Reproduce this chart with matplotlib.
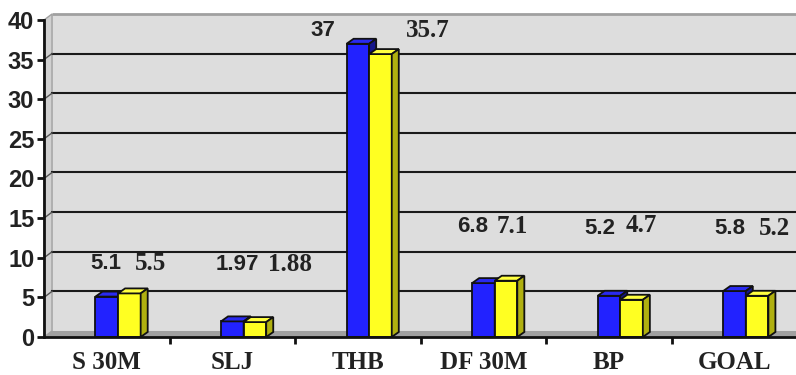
import matplotlib.pyplot as plt
from matplotlib.patches import Polygon, Rectangle
import numpy as np

categories = ["S 30M", "SLJ", "THB", "DF 30M", "BP", "GOAL"]
blue_vals = [5.1, 1.97, 37, 6.8, 5.2, 5.8]
yellow_vals = [5.5, 1.88, 35.7, 7.1, 4.7, 5.2]
blue_text = ["5.1", "1.97", "37", "6.8", "5.2", "5.8"]
yellow_text = ["5.5", "1.88", "35.7", "7.1", "4.7", "5.2"]

# label placement (hand placed in the original chart)
blue_lab_dx = [-0.01, 0.04, -0.28, -0.085, -0.07, -0.04]
yellow_lab_dx = [0.35, 0.46, 0.56, 0.23, 0.255, 0.32]
blue_lab_y = [9.3, 9.1, 38.7, 13.9, 13.7, 13.7]
yellow_lab_y = [9.3, 9.1, 38.7, 13.9, 14.1, 13.7]

BLUE = "#2222ff"
BLUE_TOP = "#2a2af0"
BLUE_SIDE = "#15158c"
YEL = "#ffff22"
YEL_TOP = "#ffff40"
YEL_SIDE = "#b0b010"
TXT = "#222222"

W, H = 796, 375
fig = plt.figure(figsize=(W / 100, H / 100), dpi=100)
ax = fig.add_axes([44 / W, 38 / H, (W - 44) / W, 317 / H])
ax.set_xlim(-0.5, 5.49)
ax.set_ylim(0, 40)
ax.patch.set_visible(False)

# 3d depth offsets in data units
ddx, ddy = 0.064, 0.76   # walls
bdx, bdy = 0.056, 0.63   # bars

# back wall, left wall, floor
ax.add_patch(Rectangle((-0.5 + ddx, ddy), 6.2, 40, facecolor="#dddddd",
                       edgecolor="none", zorder=0, clip_on=False))
ax.plot([-0.5 + ddx, 5.6], [40 + ddy, 40 + ddy], color="#a0a0a0", lw=2,
        zorder=1, clip_on=False, solid_capstyle="butt")
ax.add_patch(Polygon([(-0.5, 0), (-0.5 + ddx, ddy), (-0.5 + ddx, 40 + ddy), (-0.5, 40)],
                     closed=True, facecolor="#d0d0d0", edgecolor="#a0a0a0", lw=1,
                     zorder=1, clip_on=False))
ax.add_patch(Polygon([(-0.5, 0), (-0.5 + ddx, ddy), (5.6, ddy), (5.6, 0)],
                     closed=True, facecolor="#a0a0a0", edgecolor="none",
                     zorder=1, clip_on=False))

for v in range(5, 40, 5):
    ax.plot([-0.5 + ddx, 5.6], [v + ddy, v + ddy], color="#1a1a1a", lw=1.5,
            zorder=1, clip_on=False)
    ax.plot([-0.5, -0.5 + ddx], [v, v + ddy], color="#555555", lw=1,
            zorder=1, clip_on=False)

x = np.arange(len(categories))
bw = 0.18


def bar3d(x0, h, front, top, side):
    x1 = x0 + bw
    ax.add_patch(Rectangle((x0, 0), bw, h, facecolor=front, edgecolor="#111111",
                           lw=1.3, zorder=3))
    ax.add_patch(Polygon([(x0, h), (x0 + bdx, h + bdy), (x1 + bdx, h + bdy), (x1, h)],
                         closed=True, facecolor=top, edgecolor="#111111", lw=1.3, zorder=3))
    ax.add_patch(Polygon([(x1, 0), (x1 + bdx, bdy), (x1 + bdx, h + bdy), (x1, h)],
                         closed=True, facecolor=side, edgecolor="#111111", lw=1.3, zorder=3))


for i in range(len(categories)):
    bar3d(x[i] - bw / 2, blue_vals[i], BLUE, BLUE_TOP, BLUE_SIDE)
    bar3d(x[i] + bw / 2, yellow_vals[i], YEL, YEL_TOP, YEL_SIDE)
    ax.text(x[i] + blue_lab_dx[i], blue_lab_y[i], blue_text[i], ha="center", va="center",
            fontsize=16, fontweight="bold", family="Liberation Sans", color=TXT, zorder=5)
    ax.text(x[i] + yellow_lab_dx[i], yellow_lab_y[i], yellow_text[i], ha="center",
            va="center", fontsize=18, fontweight="bold", family="Liberation Serif",
            color=TXT, zorder=5)

# axes
for s in ["top", "right"]:
    ax.spines[s].set_visible(False)
for s in ["left", "bottom"]:
    ax.spines[s].set_linewidth(2)
    ax.spines[s].set_color("#111111")
    ax.spines[s].set_zorder(6)

ax.set_yticks(range(0, 41, 5))
ax.tick_params(axis="y", length=5, width=2, pad=2, color="#111111")
for lab in ax.get_yticklabels():
    lab.set_fontsize(17)
    lab.set_fontweight("bold")
    lab.set_family("Liberation Sans")
    lab.set_color(TXT)

ax.set_xticks(x)
ax.set_xticklabels(categories)
ax.set_xticks(np.arange(0.5, 5.0, 1.0), minor=True)
ax.tick_params(axis="x", which="major", length=0, pad=10)
ax.tick_params(axis="x", which="minor", length=5, width=2, color="#111111")
for lab in ax.get_xticklabels():
    lab.set_fontsize(18)
    lab.set_fontweight("bold")
    lab.set_family("Liberation Serif")
    lab.set_color(TXT)

fig.savefig("out.png", dpi=100, facecolor="white")
